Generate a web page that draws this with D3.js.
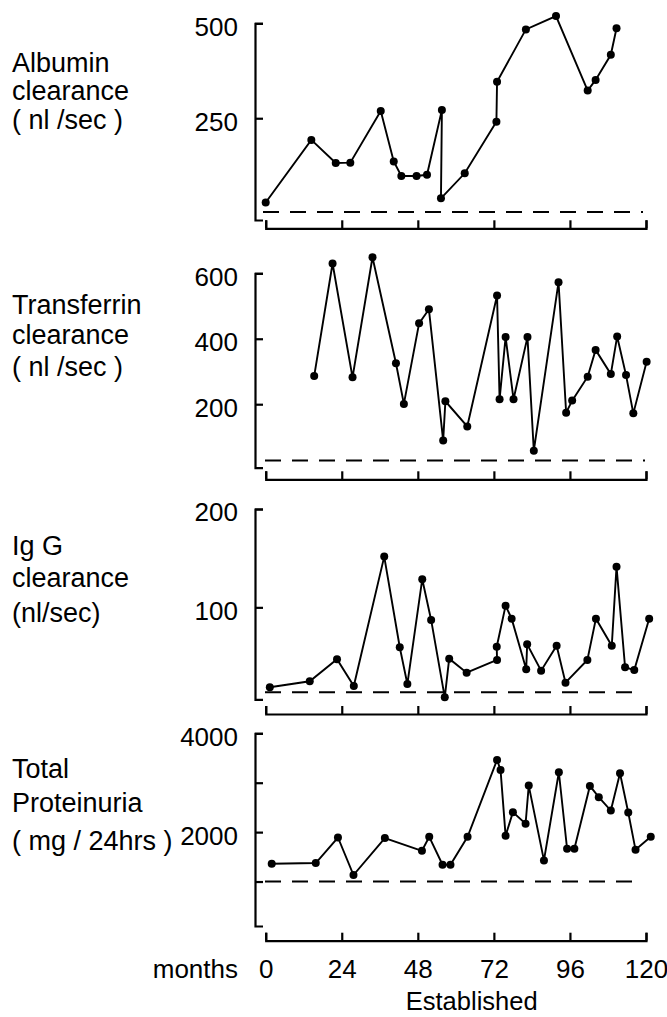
<!DOCTYPE html>
<html>
<head>
<meta charset="utf-8">
<script src="https://cdn.jsdelivr.net/npm/d3@7"></script>
<style>
  body { margin: 0; background: #fff; }
  svg text { font-family: "Liberation Sans", Arial, sans-serif; fill: #000; }
</style>
</head>
<body>
<svg id="chart" width="667" height="1017"></svg>
<script>
/*************************************************************
 *  Data section.
 *************************************************************/

const month_ticks = [0, 24, 48, 72, 96, 120];

const albumin_months = [0, 14.4, 22.1, 26.7, 36.3, 40.4, 42.8, 47.6, 50.9, 55.6, 55.3, 62.8, 72.8, 73, 82.1, 91.6, 101.6, 104.1, 108.9, 110.7];
const albumin_values = [28, 193, 132, 133, 269, 136, 98, 98, 101, 272, 39, 105, 241, 346, 484, 519, 323, 351, 417, 487];
const albumin_ticks = [250, 500];
const albumin_normal = 3;

const transferrin_months = [15.3, 21.1, 27.4, 33.7, 41.1, 43.6, 48.4, 51.5, 56, 56.7, 63.6, 73, 73.8, 75.7, 78.2, 82.6, 84.6, 92.4, 94.8, 96.7, 101.6, 104.1, 108.9, 110.9, 113.7, 116, 120.2];
const transferrin_values = [286, 630, 282, 649, 325, 201, 447, 490, 89, 209, 132, 532, 215, 405, 215, 405, 58, 573, 174, 211, 284, 366, 292, 407, 289, 172, 330];
const transferrin_ticks = [200, 400, 600];
const transferrin_normal = 28;

const igg_months = [1.3, 13.9, 22.5, 27.8, 37.4, 42.3, 44.7, 49.4, 52.2, 56.5, 57.9, 63.4, 73, 72.9, 75.7, 77.6, 82.2, 82.5, 86.9, 91.8, 94.6, 101.5, 104.2, 109.2, 110.7, 113.4, 116.3, 121];
const igg_values = [18.7, 24.8, 47.2, 20, 151.6, 59.4, 22, 128.6, 87.2, 8.5, 47.8, 33.6, 46.5, 60, 101.7, 88.5, 37, 62.5, 35.6, 61, 23.4, 46.5, 88.5, 61, 141.4, 39, 36.3, 88.5];
const igg_ticks = [100, 200];
const igg_normal = 13.6;

const protein_months = [1.9, 15.8, 22.8, 27.7, 37.6, 49.3, 51.6, 55.8, 58.3, 63.7, 73, 74.1, 75.7, 78, 82, 83, 87.8, 92.5, 95.1, 97.4, 102.3, 105.1, 108.9, 111.8, 114.4, 116.7, 121.5];
const protein_values = [1360, 1374, 1891, 1131, 1879, 1622, 1905, 1339, 1339, 1905, 3461, 3259, 1925, 2404, 2168, 2942, 1427, 3212, 1663, 1663, 2935, 2707, 2436, 3192, 2396, 1642, 1905];
const protein_ticks = [1000, 2000, 3000, 4000];
const protein_labels = [2000, 4000];
const protein_normal = 1000;


/*************************************************************
 *  Drawing section.
 *************************************************************/

const svg = d3.select("#chart");
const axis_x = 255;
const num_size = 26;

const x = d3.scaleLinear().domain([0, 120]).range([265.7, 646]);

/**
 * Draws one panel: y axis with inward ticks, dashed normal line,
 * series line with dots and an x axis with upward ticks.
 */
function draw_panel(p){
    let y = d3.scaleLinear().domain(p.domain).range([p.y_bottom, p.y_top]);
    let g = svg.append("g");

    // Y axis
    let y_axis = d3.axisLeft(y)
        .tickValues(p.ticks)
        .tickSizeInner(-8)
        .tickSizeOuter(-8)
        .tickPadding(17)
        .tickFormat(d => (p.labels || p.ticks).includes(d) ? d : "");
    let ya = g.append("g")
        .attr("transform", `translate(${axis_x},0)`)
        .call(y_axis);
    ya.selectAll("path, line").attr("stroke", "#000").attr("stroke-width", 2.2);
    ya.selectAll("text")
        .attr("font-size", num_size)
        .attr("dy", "0.46em")
        .attr("fill", "#000");

    // X axis
    let x_axis = d3.axisBottom(x)
        .tickValues(month_ticks)
        .tickSizeInner(-8)
        .tickSizeOuter(-8)
        .tickFormat(p.show_x ? d => d : "");
    let xa = g.append("g")
        .attr("transform", `translate(0,${p.x_axis_y})`)
        .call(x_axis);
    xa.selectAll("path, line").attr("stroke", "#000").attr("stroke-width", 2.2);
    xa.selectAll("text")
        .attr("font-size", num_size)
        .attr("y", 0)
        .attr("dy", 37)
        .attr("fill", "#000");

    // Dashed normal line
    g.append("line")
        .attr("x1", p.dash_x[0])
        .attr("x2", p.dash_x[1])
        .attr("y1", y(p.normal))
        .attr("y2", y(p.normal))
        .attr("stroke", "#000")
        .attr("stroke-width", 2)
        .attr("stroke-dasharray", "16,11");

    // Series
    let pts = p.months.map((m, i) => [m, p.values[i]]);
    let line = d3.line().x(d => x(d[0])).y(d => y(d[1]));
    g.append("path")
        .attr("d", line(pts))
        .attr("fill", "none")
        .attr("stroke", "#000")
        .attr("stroke-width", 1.9);
    g.selectAll("circle.dot")
        .data(pts)
        .join("circle")
        .attr("class", "dot")
        .attr("cx", d => x(d[0]))
        .attr("cy", d => y(d[1]))
        .attr("r", 4)
        .attr("fill", "#000");

    // Left label
    let t = svg.append("text")
        .attr("x", 12)
        .attr("font-size", 27);
    p.title.forEach((s, i) => {
        t.append("tspan").attr("x", 12).attr("y", p.title_y[i]).text(s);
    });
}

draw_panel({
    months: albumin_months, values: albumin_values,
    domain: [-18, 500], y_top: 23.3, y_bottom: 220,
    ticks: albumin_ticks, normal: albumin_normal,
    x_axis_y: 228.3, dash_x: [263, 643],
    title: ["Albumin", "clearance", "( nl /sec )"], title_y: [71.7, 100, 128.5]
});

draw_panel({
    months: transferrin_months, values: transferrin_values,
    domain: [6, 600], y_top: 273.3, y_bottom: 467.7,
    ticks: transferrin_ticks, normal: transferrin_normal,
    x_axis_y: 479.3, dash_x: [265, 645],
    title: ["Transferrin", "clearance", "( nl /sec )"], title_y: [314, 343.5, 376]
});

draw_panel({
    months: igg_months, values: igg_values,
    domain: [6.5, 200], y_top: 509, y_bottom: 699.3,
    ticks: igg_ticks, normal: igg_normal,
    x_axis_y: 714, dash_x: [265, 637],
    title: ["Ig G", "clearance", "(nl/sec)"], title_y: [555, 587, 621.5]
});

draw_panel({
    months: protein_months, values: protein_values,
    domain: [100, 4000], y_top: 733.3, y_bottom: 926,
    ticks: protein_ticks, labels: protein_labels, normal: protein_normal,
    x_axis_y: 940.7, dash_x: [265, 640], show_x: true,
    title: ["Total", "Proteinuria", "( mg / 24hrs )"], title_y: [778.3, 811.7, 850]
});

// Bottom captions
svg.append("text")
    .attr("x", 238).attr("y", 978)
    .attr("text-anchor", "end")
    .attr("font-size", num_size)
    .text("months");

svg.append("text")
    .attr("x", 471.7).attr("y", 1010)
    .attr("text-anchor", "middle")
    .attr("font-size", 25.5)
    .text("Established");
</script>
</body>
</html>
